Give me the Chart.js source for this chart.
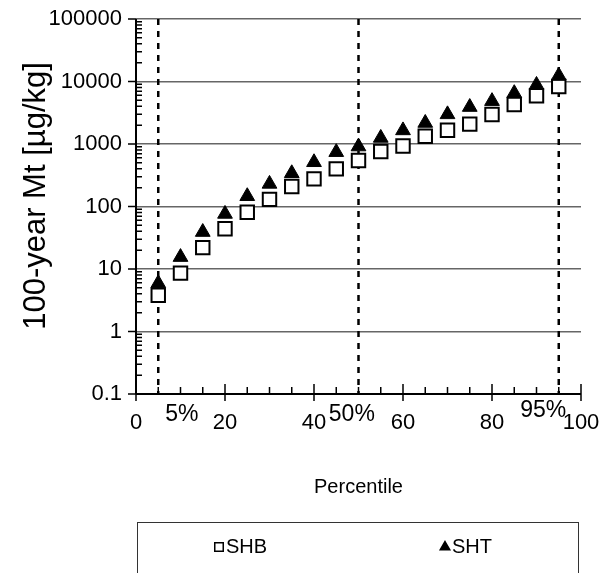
<!DOCTYPE html>
<html>
<head>
<meta charset="utf-8">
<script src="https://cdn.jsdelivr.net/npm/chart.js@4/dist/chart.umd.min.js"></script>
<style>
    html, body { margin: 0; padding: 0; background: #fff; }
    #wrap { position: relative; width: 605px; height: 573px; }
</style>
</head>
<body>
<div id="wrap"><canvas id="chart" width="605" height="573"></canvas></div>
<script>
// Данные
const percentiles = [5, 10, 15, 20, 25, 30, 35, 40, 45, 50, 55, 60, 65, 70, 75, 80, 85, 90, 95];
const shbValues = [3.8, 8.6, 22, 44, 81, 130, 209, 277, 400, 545, 760, 930, 1330, 1660, 2080, 2960, 4300, 5900, 8300];
const shtValues = [5.9, 15.5, 39, 76, 146, 230, 340, 510, 740, 910, 1250, 1650, 2170, 2980, 3900, 4850, 6500, 8800, 12400];
const xTicks = [0, 20, 40, 60, 80, 100];
const yTicks = [0.1, 1, 10, 100, 1000, 10000, 100000];
const markerLines = [5, 50, 95];
const markerLabels = ['5%', '50%', '95%'];
const markerLabelX = [10.3, 48.5, 91.5];
const seriesNames = ['SHB', 'SHT'];
const yTitle = '100-year Mt [µg/kg]';

const FONT_FAMILY = '"Liberation Sans", Arial, sans-serif';

function toPoints(values) {
    return values.map((v, i) => ({x: percentiles[i], y: v}));
}

// Пунктирные линии процентилей и подписи к ним
const percentileLinesPlugin = {
    id: 'percentileLines',
    beforeDatasetsDraw(chart) {
        const {ctx, chartArea, scales} = chart;
        ctx.save();
        ctx.strokeStyle = '#000';
        ctx.lineWidth = 2.5;
        ctx.setLineDash([6, 6]);
        markerLines.forEach((v) => {
            const x = scales.x.getPixelForValue(v);
            ctx.beginPath();
            ctx.moveTo(x, chartArea.top);
            ctx.lineTo(x, chartArea.bottom);
            ctx.stroke();
        });
        ctx.restore();
    },
    afterDraw(chart) {
        const {ctx, chartArea, scales} = chart;
        ctx.save();
        ctx.fillStyle = '#000';
        ctx.font = '23px ' + FONT_FAMILY;
        ctx.textAlign = 'center';
        ctx.textBaseline = 'alphabetic';
        markerLabels.forEach((text, i) => {
            const x = scales.x.getPixelForValue(markerLabelX[i]);
            const dy = i === 2 ? 23 : 27;
            ctx.fillText(text, x, chartArea.bottom + dy);
        });

        // Подпись оси Y
        ctx.translate(36, 196);
        ctx.rotate(-Math.PI / 2);
        ctx.font = '31px ' + FONT_FAMILY;
        ctx.textBaseline = 'middle';
        ctx.fillText(yTitle, 0, 0);
        ctx.restore();
    },
};

// Оси, основные и вспомогательные засечки
const axesPlugin = {
    id: 'axesTicks',
    afterDraw(chart) {
        const {ctx, chartArea, scales} = chart;
        const {left, right, top, bottom} = chartArea;
        ctx.save();
        ctx.strokeStyle = '#000';
        ctx.lineWidth = 2;
        ctx.beginPath();
        ctx.moveTo(left, top);
        ctx.lineTo(left, bottom);
        ctx.moveTo(left, bottom);
        ctx.lineTo(right, bottom);
        ctx.stroke();

        ctx.lineWidth = 1.5;
        ctx.beginPath();
        for (let d = 0; d < yTicks.length; d++) {
            const y = scales.y.getPixelForValue(yTicks[d]);
            ctx.moveTo(left - 8, y);
            ctx.lineTo(left, y);
            if (d < yTicks.length - 1) {
                for (let m = 2; m <= 9; m++) {
                    const ym = scales.y.getPixelForValue(yTicks[d] * m);
                    ctx.moveTo(left, ym);
                    ctx.lineTo(left + 6, ym);
                }
            }
        }
        for (let v = 0; v <= 100; v += 5) {
            const x = scales.x.getPixelForValue(v);
            if (xTicks.includes(v)) {
                ctx.moveTo(x, bottom - 10);
                ctx.lineTo(x, bottom + 7);
            } else {
                ctx.moveTo(x, bottom - 7);
                ctx.lineTo(x, bottom);
            }
        }
        ctx.stroke();
        ctx.restore();
    },
};

// Легенда в рамке под графиком
const boxLegendPlugin = {
    id: 'boxLegend',
    afterDraw(chart) {
        const {ctx} = chart;
        ctx.save();
        ctx.strokeStyle = '#333';
        ctx.lineWidth = 1;
        ctx.strokeRect(137.5, 522.5, 441, 80);

        const items = [
            {x: 219, textX: 226, style: 'rect', radius: 6},
            {x: 445, textX: 452, style: 'triangle', radius: 5.5},
        ];
        ctx.font = '20px ' + FONT_FAMILY;
        ctx.textBaseline = 'alphabetic';
        ctx.textAlign = 'left';
        items.forEach((item, i) => {
            const ds = chart.data.datasets[i];
            ctx.fillStyle = ds.pointBackgroundColor;
            ctx.strokeStyle = ds.pointBorderColor;
            ctx.lineWidth = 1.5;
            Chart.helpers.drawPoint(ctx, {pointStyle: item.style, radius: item.radius, borderWidth: 1.5}, item.x, 547);
            ctx.fillStyle = '#000';
            ctx.fillText(seriesNames[i], item.textX, 553);
        });
        ctx.restore();
    },
};

const ctx = document.getElementById('chart').getContext('2d');

new Chart(ctx, {
    type: 'scatter',
    data: {
        datasets: [
            {
                label: seriesNames[0],
                data: toPoints(shbValues),
                pointStyle: 'rect',
                pointRadius: 9.5,
                pointBorderWidth: 2,
                pointBorderColor: '#000',
                pointBackgroundColor: '#fff',
                order: 1,
            },
            {
                label: seriesNames[1],
                data: toPoints(shtValues),
                pointStyle: 'triangle',
                pointRadius: 8.5,
                pointBorderWidth: 1,
                pointBorderColor: '#000',
                pointBackgroundColor: '#000',
                order: 0,
            },
        ],
    },
    options: {
        responsive: false,
        animation: false,
        layout: {
            padding: {top: 19, right: 24, left: 0, bottom: 74},
        },
        plugins: {
            legend: {display: false},
            tooltip: {enabled: false},
        },
        scales: {
            x: {
                type: 'linear',
                min: 0,
                max: 100,
                afterBuildTicks: (scale) => {
                    scale.ticks = xTicks.map((v) => ({value: v}));
                },
                afterFit: (scale) => {
                    scale.height = 105;
                    scale.paddingLeft = 0;
                    scale.paddingRight = 0;
                },
                grid: {display: false, drawTicks: false},
                border: {display: false},
                ticks: {
                    color: '#000',
                    font: {family: FONT_FAMILY, size: 22},
                    padding: 16,
                    maxRotation: 0,
                    autoSkip: false,
                },
                title: {
                    display: true,
                    text: 'Percentile',
                    color: '#000',
                    font: {family: FONT_FAMILY, size: 20},
                    padding: {top: 0, bottom: 0},
                },
            },
            y: {
                type: 'logarithmic',
                min: 0.1,
                max: 100000,
                afterBuildTicks: (scale) => {
                    scale.ticks = yTicks.map((v) => ({value: v}));
                },
                afterFit: (scale) => {
                    scale.width = 136;
                    scale.paddingTop = 0;
                    scale.paddingBottom = 0;
                },
                grid: {color: '#666', lineWidth: 1.5, drawTicks: false},
                border: {display: false},
                ticks: {
                    color: '#000',
                    font: {family: FONT_FAMILY, size: 22},
                    padding: 14,
                    autoSkip: false,
                    callback: (value) => String(value),
                },
            },
        },
    },
    plugins: [percentileLinesPlugin, axesPlugin, boxLegendPlugin],
});
</script>
</body>
</html>
